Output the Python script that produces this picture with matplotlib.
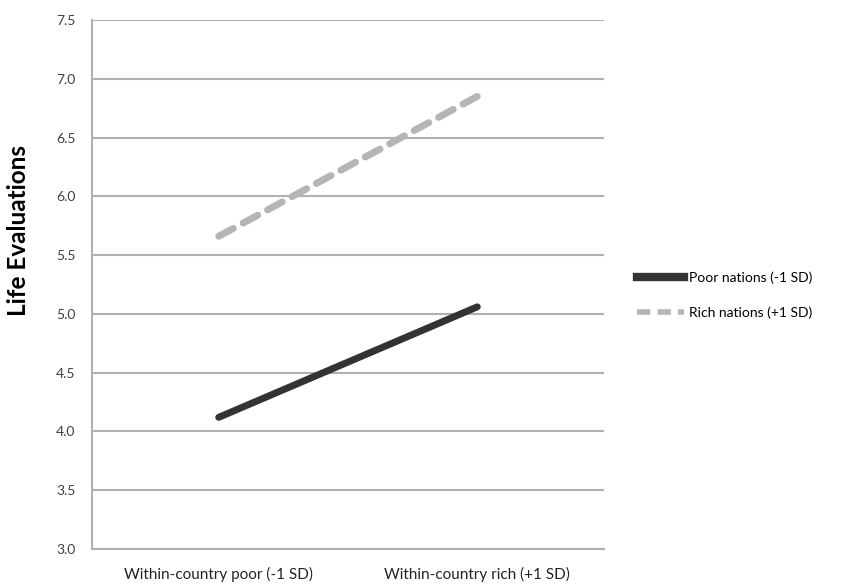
import matplotlib.pyplot as plt
from matplotlib.lines import Line2D

categories = ['Within-country poor (-1 SD)', 'Within-country rich (+1 SD)']
poor_nations = [4.12, 5.06]
rich_nations = [5.66, 6.85]
yticks = [3.0, 3.5, 4.0, 4.5, 5.0, 5.5, 6.0, 6.5, 7.0, 7.5]

plt.rcParams['font.family'] = ['Lato', 'DejaVu Sans']

fig = plt.figure(figsize=(8.41, 5.84), dpi=100)
ax = fig.add_axes([92 / 841, 1 - 549 / 584, (604 - 92) / 841, (549 - 20) / 584])

x = range(len(categories))
ax.plot(x, poor_nations, color='#333333', lw=5, solid_capstyle='round')
ax.plot(x, rich_nations, color='#b5b5b5', lw=5, dashes=(2.4, 1.6),
        dash_capstyle='round')

ax.set_xlim(-0.49, 1.49)
ax.set_ylim(3.0, 7.5)
ax.set_yticks(yticks)
ax.set_yticklabels([f'{v:.1f}' for v in yticks], fontsize=10, color='#404040')
ax.set_xticks(list(x))
ax.set_xticklabels(categories, fontsize=11, color='#222222')
ax.tick_params(length=0, pad=12)
ax.tick_params(axis='x', pad=13)
ax.yaxis.grid(True, color='#b0b0b0', lw=1.5)
ax.set_axisbelow(True)
for s in ['top', 'right']:
    ax.spines[s].set_visible(False)
ax.spines['left'].set_color('#b0b0b0')
ax.spines['left'].set_linewidth(1.5)
ax.spines['bottom'].set_color('#b0b0b0')
ax.spines['bottom'].set_linewidth(1.5)

ax.set_ylabel('Life Evaluations', fontsize=17.5, fontweight='bold')
ax.yaxis.set_label_coords(-0.121, 0.603)

handles = [Line2D([], [], color='#333333', lw=6),
           Line2D([], [], color='#b5b5b5', lw=4, dashes=(2.4, 1.3))]
fig.legend(handles, ['Poor nations (-1 SD)', 'Rich nations (+1 SD)'],
           loc='center left', bbox_to_anchor=(624 / 841, 1 - 295 / 584),
           frameon=False, fontsize=10, handlelength=3.4, handletextpad=0.4,
           labelspacing=1.65)

fig.savefig('out.png', dpi=100)
